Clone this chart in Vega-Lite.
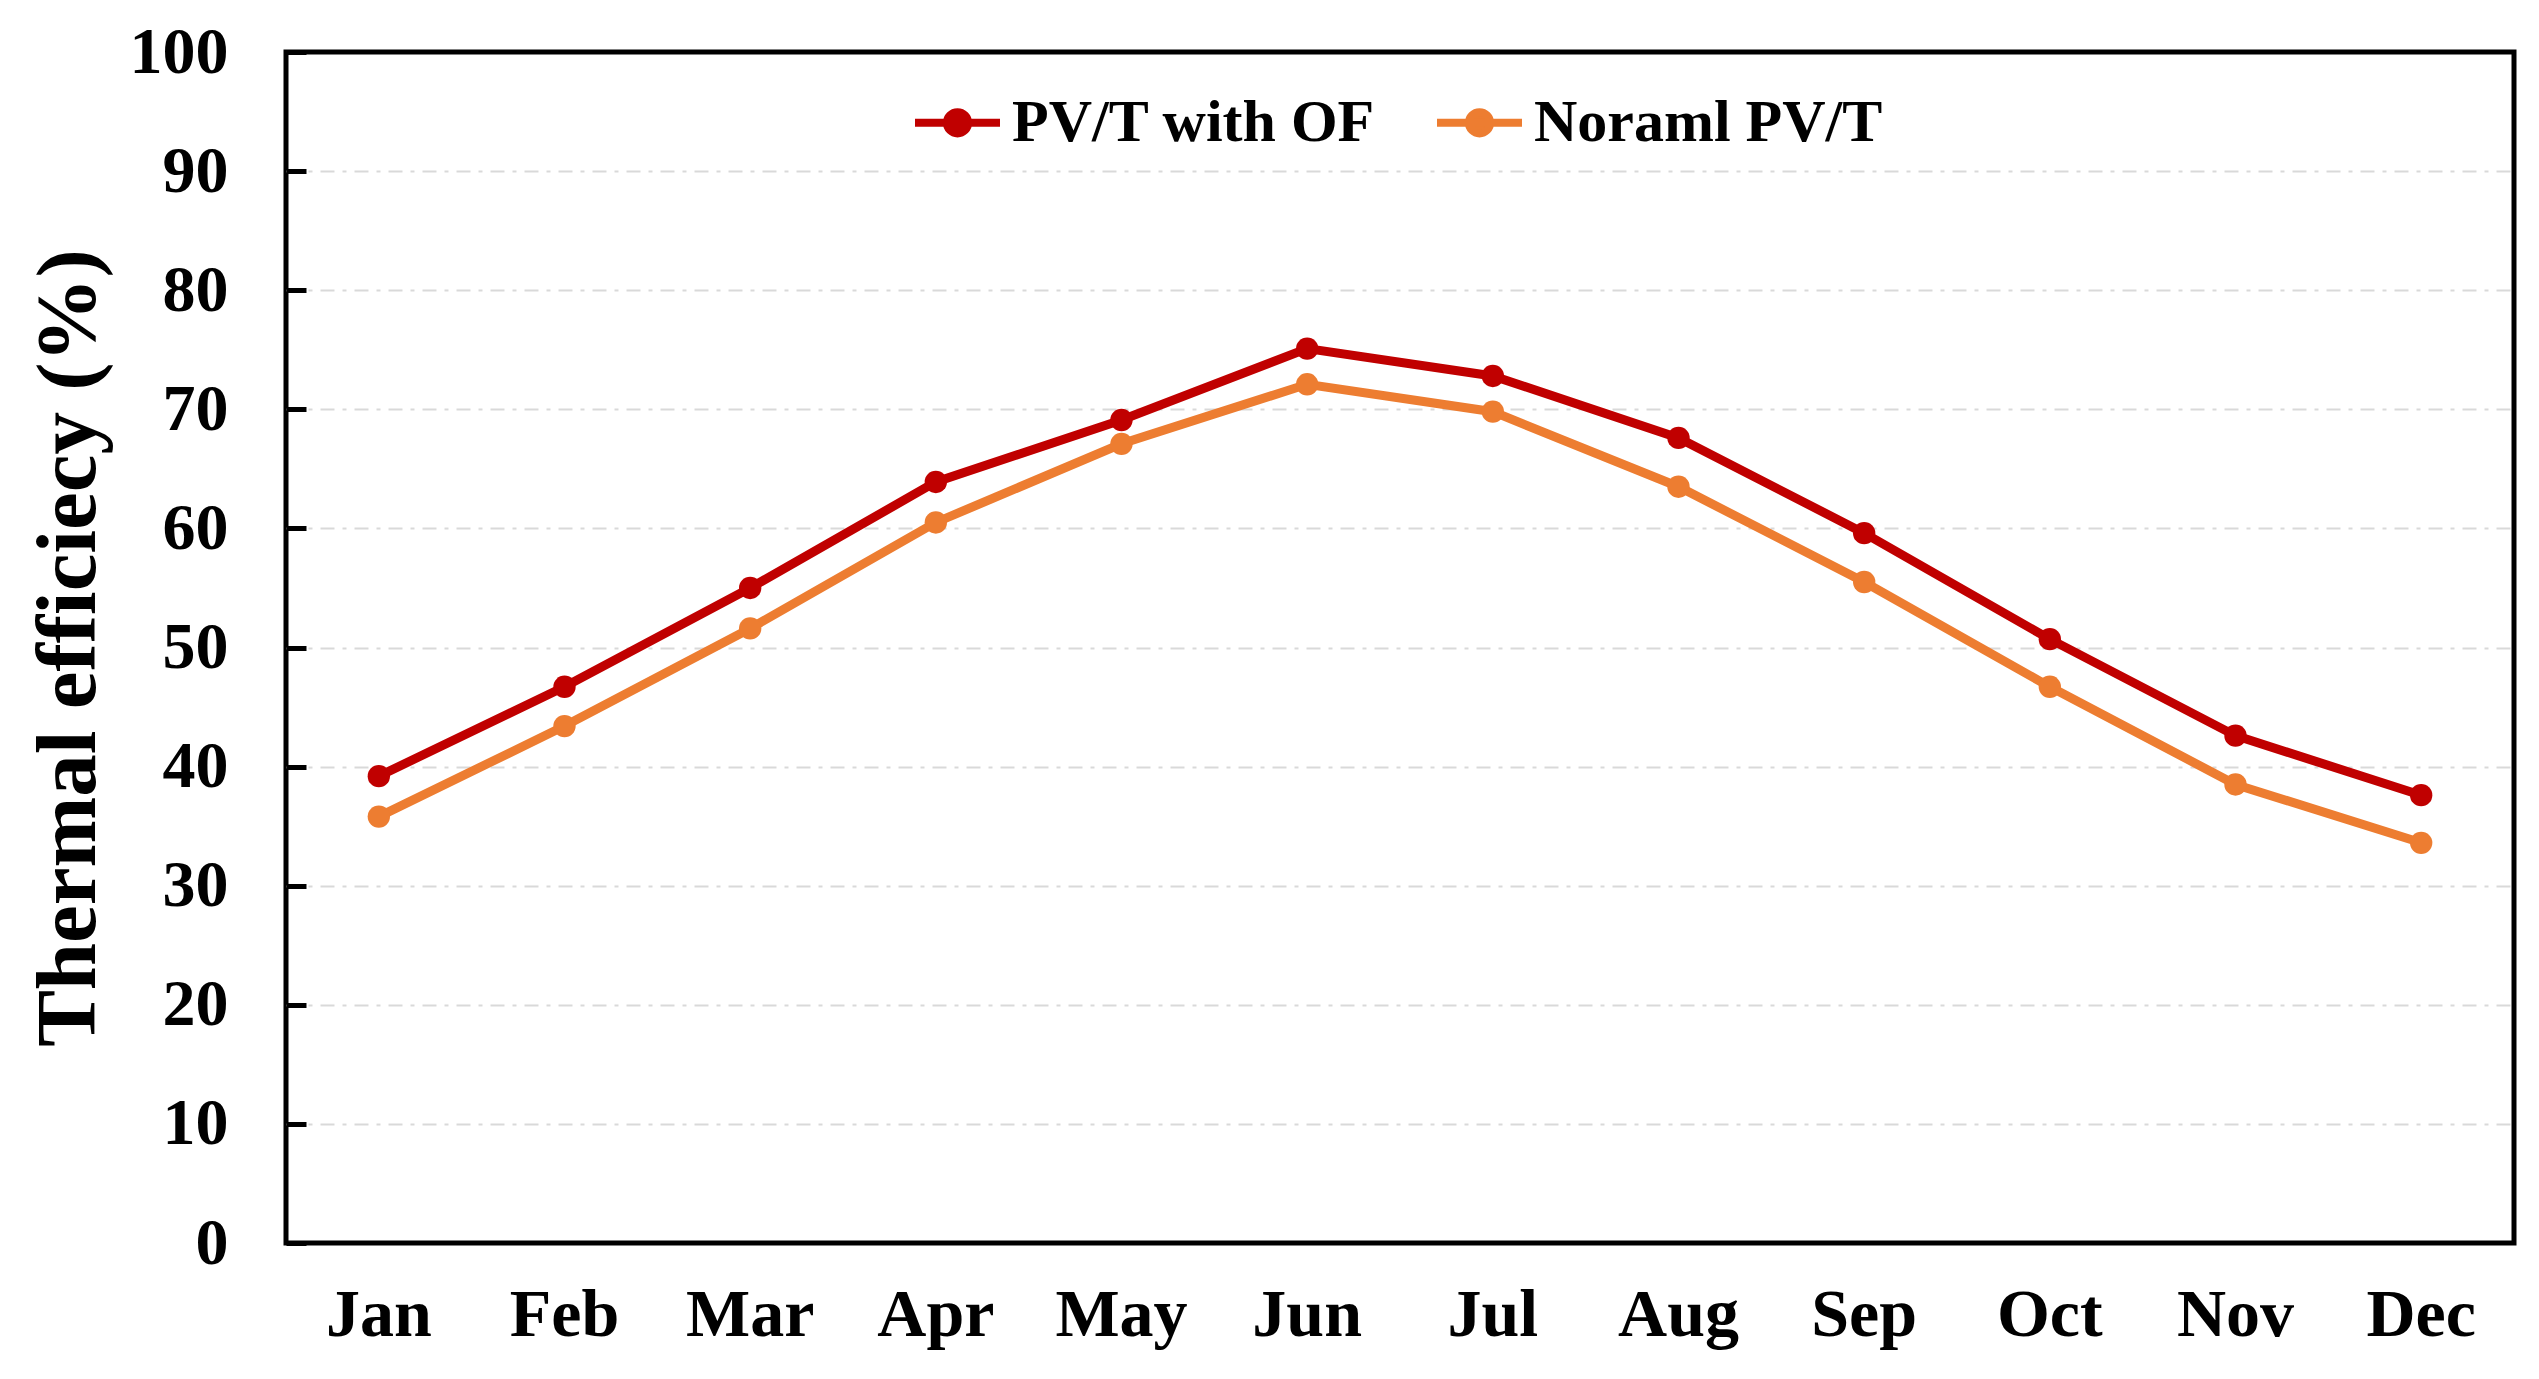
{
  "$schema": "https://vega.github.io/schema/vega-lite/v6.json",
  "autosize": "none",
  "width": 2228,
  "height": 1191,
  "padding": {"left": 286, "top": 52, "right": 25, "bottom": 136},
  "background": "white",
  "config": {
    "font": "Liberation Serif",
    "view": {"stroke": "black", "strokeWidth": 5},
    "axis": {"labelFont": "Liberation Serif", "titleFont": "Liberation Serif", "labelFontWeight": "bold", "titleFontWeight": "bold", "labelColor": "black", "titleColor": "black"}
  },
  "data": {
    "values": [
      {"month": "Jan", "series": "PV/T with OF", "eff": 39.2},
      {"month": "Feb", "series": "PV/T with OF", "eff": 46.7},
      {"month": "Mar", "series": "PV/T with OF", "eff": 55.0},
      {"month": "Apr", "series": "PV/T with OF", "eff": 63.9},
      {"month": "May", "series": "PV/T with OF", "eff": 69.1},
      {"month": "Jun", "series": "PV/T with OF", "eff": 75.1},
      {"month": "Jul", "series": "PV/T with OF", "eff": 72.8},
      {"month": "Aug", "series": "PV/T with OF", "eff": 67.6},
      {"month": "Sep", "series": "PV/T with OF", "eff": 59.6},
      {"month": "Oct", "series": "PV/T with OF", "eff": 50.7},
      {"month": "Nov", "series": "PV/T with OF", "eff": 42.6},
      {"month": "Dec", "series": "PV/T with OF", "eff": 37.6},
      {"month": "Jan", "series": "Noraml PV/T", "eff": 35.8},
      {"month": "Feb", "series": "Noraml PV/T", "eff": 43.4},
      {"month": "Mar", "series": "Noraml PV/T", "eff": 51.6},
      {"month": "Apr", "series": "Noraml PV/T", "eff": 60.5},
      {"month": "May", "series": "Noraml PV/T", "eff": 67.1},
      {"month": "Jun", "series": "Noraml PV/T", "eff": 72.1},
      {"month": "Jul", "series": "Noraml PV/T", "eff": 69.8},
      {"month": "Aug", "series": "Noraml PV/T", "eff": 63.5},
      {"month": "Sep", "series": "Noraml PV/T", "eff": 55.5},
      {"month": "Oct", "series": "Noraml PV/T", "eff": 46.7},
      {"month": "Nov", "series": "Noraml PV/T", "eff": 38.5},
      {"month": "Dec", "series": "Noraml PV/T", "eff": 33.6}
    ]
  },
  "encoding": {
    "x": {
      "field": "month", "type": "ordinal",
      "sort": ["Jan","Feb","Mar","Apr","May","Jun","Jul","Aug","Sep","Oct","Nov","Dec"],
      "scale": {"type": "band", "paddingInner": 0, "paddingOuter": 0},
      "axis": {"title": null, "labelAngle": 0, "labelFontSize": 68, "ticks": false, "domain": false, "labelPadding": 38, "grid": false}
    },
    "y": {
      "field": "eff", "type": "quantitative",
      "scale": {"domain": [0, 100], "nice": false},
      "axis": {
        "title": "Thermal efficiecy (%)", "titleFontSize": 85, "titlePadding": 17,
        "values": [0,10,20,30,40,50,60,70,80,90,100],
        "labelFontSize": 66, "tickSize": -20, "tickWidth": 5, "tickColor": "black",
        "labelPadding": 78, "domain": false,
        "grid": true, "gridColor": "#D9D9D9", "gridWidth": 2, "gridDash": [14, 8, 4, 8],
        "gridOpacity": {"condition": {"test": "datum.value === 0 || datum.value === 100", "value": 0}, "value": 1}
      }
    },
    "color": {
      "field": "series", "type": "nominal",
      "scale": {"domain": ["PV/T with OF", "Noraml PV/T"], "range": ["#C00000", "#ED7D31"]},
      "legend": {
        "title": null, "orient": "none", "legendX": 625, "legendY": 24, "direction": "horizontal",
        "labelFontSize": 60, "labelFont": "Liberation Serif", "labelFontWeight": "bold", "labelColor": "black", "labelLimit": 0,
        "symbolType": "M-1,0L1,0M-0.25,0A0.25,0.25,0,1,1,0.25,0A0.25,0.25,0,1,1,-0.25,0Z",
        "symbolSize": 7225, "symbolStrokeWidth": 8, "labelOffset": 8, "columnPadding": 45,
        "encode": {"symbols": {"update": {"fill": {"scale": "color", "field": "value"}, "stroke": {"scale": "color", "field": "value"}, "opacity": {"value": 1}}}}
      }
    }
  },
  "layer": [
    {"mark": {"type": "line", "strokeWidth": 9}},
    {"mark": {"type": "point", "filled": true, "size": 500, "opacity": 1}}
  ]
}
